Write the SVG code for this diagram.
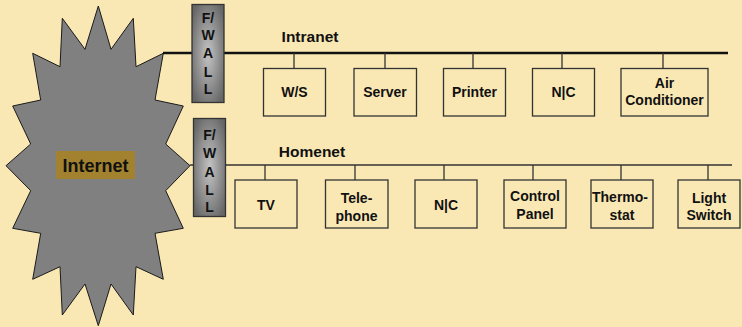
<svg xmlns="http://www.w3.org/2000/svg" width="742" height="327" viewBox="0 0 742 327">
<defs>
<radialGradient id="fw" cx="0.5" cy="0.5" r="0.62">
<stop offset="0" stop-color="#c4c4c4"/>
<stop offset="1" stop-color="#666"/>
</radialGradient>
<style>
text{font-family:"Liberation Sans",Arial,sans-serif;font-weight:bold;fill:#111;text-anchor:middle}
.box{fill:none;stroke:#333;stroke-width:1.3}
.stem{stroke:#333;stroke-width:1.3;fill:none}
.t{font-size:14px}
.fwt{font-size:14px}
.fwr{fill:url(#fw);stroke:#333;stroke-width:1.3}
</style>
</defs>
<rect width="742" height="327" fill="#fae8b4"/>
<g id="internet">
<polygon fill="#808080" stroke="#1a1a1a" stroke-width="1" points="98.3,6 111,49.3 133.3,18.3 136,66.7 163.3,53.3 155,100 183.3,106 165.7,144 190,165.7 165.7,190.7 183.3,228.3 155,233.3 163.3,279.3 136,266.7 133.3,315 111,284 98.3,325.7 85,284 62.3,315 60,266.7 32.7,279.3 40.7,233.3 12.7,228.3 30.7,190.7 6,165.7 30.7,144 12.7,106 40.7,100 32.7,53.3 60,66.7 62.3,18.3 85,49.3"/>
<rect x="56" y="151" width="79" height="28" fill="#a2822f"/>
<text x="95.5" y="171.5" style="font-size:18px">Internet</text>
</g>
<g id="connectors">
<line x1="163" y1="53" x2="728" y2="53" stroke="#111" stroke-width="2.7"/>
<line x1="190" y1="165" x2="732" y2="165" stroke="#333" stroke-width="1.5"/>
<path class="stem" d="M294,53V68 M385,53V68 M473,53V68 M562,53V68 M663,53V68 M265,165V180 M355,165V180 M444,165V180 M533,165V180 M621,165V180 M708,165V180"/>
</g>
<g id="fw1">
<rect class="fwr" x="192" y="4.5" width="32" height="98"/>
<text class="fwt" x="208" y="23">F/</text>
<text class="fwt" x="208" y="40">W</text>
<text class="fwt" x="208" y="58">A</text>
<text class="fwt" x="208" y="77">L</text>
<text class="fwt" x="208" y="94">L</text>
</g>
<g id="fw2">
<rect class="fwr" x="193.5" y="118.5" width="32" height="98"/>
<text class="fwt" x="209.5" y="140">F/</text>
<text class="fwt" x="209.5" y="158">W</text>
<text class="fwt" x="209.5" y="177">A</text>
<text class="fwt" x="209.5" y="195">L</text>
<text class="fwt" x="209.5" y="212">L</text>
</g>
<g id="intranet-label"><text x="310" y="41.5" style="font-size:15.5px">Intranet</text></g>
<g id="homenet-label"><text x="312" y="156.5" style="font-size:15.5px">Homenet</text></g>
<g id="ws"><rect class="box" x="263.5" y="68.5" width="62" height="47.5"/><text class="t" x="294.5" y="97">W/S</text></g>
<g id="server"><rect class="box" x="354" y="68.5" width="62.5" height="47.5"/><text class="t" x="385" y="97">Server</text></g>
<g id="printer"><rect class="box" x="443.5" y="68.5" width="62" height="47.5"/><text class="t" x="474.5" y="97">Printer</text></g>
<g id="nc1"><rect class="box" x="532.5" y="68.5" width="62" height="47.5"/><text class="t" x="563.5" y="97">N|C</text></g>
<g id="aircon"><rect class="box" x="621" y="68.5" width="87" height="47.5"/><text class="t" x="664.5" y="88">Air</text><text class="t" x="664.5" y="105">Conditioner</text></g>
<g id="tv"><rect class="box" x="235" y="180" width="62" height="48"/><text class="t" x="266" y="210">TV</text></g>
<g id="telephone"><rect class="box" x="325.5" y="180" width="62.5" height="48"/><text class="t" x="356.5" y="203">Tele-</text><text class="t" x="356.5" y="221">phone</text></g>
<g id="nc2"><rect class="box" x="415" y="180" width="62" height="48"/><text class="t" x="446" y="210">N|C</text></g>
<g id="control"><rect class="box" x="504" y="180" width="62" height="48"/><text class="t" x="535" y="201">Control</text><text class="t" x="535" y="218.5">Panel</text></g>
<g id="thermostat"><rect class="box" x="591" y="180" width="62" height="48"/><text class="t" x="620" y="202">Thermo-</text><text class="t" x="622" y="220">stat</text></g>
<g id="lightswitch"><rect class="box" x="678" y="180" width="62" height="48"/><text class="t" x="709" y="203">Light</text><text class="t" x="709" y="220">Switch</text></g>
</svg>
